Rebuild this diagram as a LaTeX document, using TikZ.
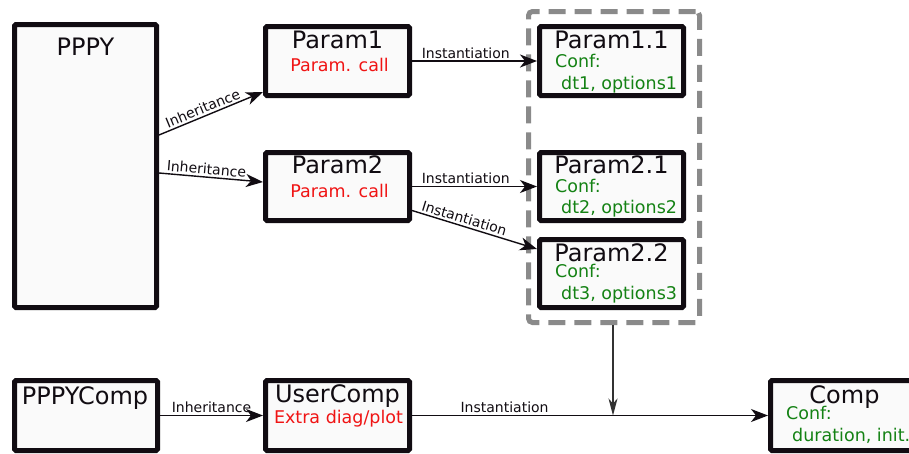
\documentclass[tikz,border=0pt]{standalone}
\usepackage{fontspec}
\setmainfont{DejaVu Sans}
\usetikzlibrary{arrows.meta,positioning}

\definecolor{borde}{RGB}{17,12,18}
\definecolor{fondo}{RGB}{250,250,250}
\definecolor{verde}{RGB}{20,130,20}
\definecolor{rojo}{RGB}{240,20,20}
\definecolor{gris}{RGB}{138,138,138}
\definecolor{oscuro}{RGB}{50,50,50}

\tikzset{
  caja/.style={draw=borde, fill=fondo, line width=5pt, rounded corners=1.5pt, inner sep=0pt},
  grupo/.style={draw=gris, line width=5pt, dash pattern=on 17pt off 9pt, rounded corners=4pt, inner sep=0pt},
  titulo/.style={anchor=base, inner sep=0pt, text=borde, font=\fontsize{24}{28}\selectfont},
  llamada/.style={anchor=base, inner sep=0pt, text=rojo, font=\fontsize{17.5}{20}\selectfont},
  conf/.style={anchor=base west, inner sep=0pt, text=verde, font=\fontsize{17.5}{20}\selectfont},
  enlace/.style={line width=1.4pt, draw=borde, -{Stealth[length=17pt,width=13pt,inset=5pt]}},
  bajada/.style={line width=1.3pt, draw=oscuro, -{Stealth[length=17pt,width=9pt,inset=5pt]}},
  etiqueta/.style={inner sep=2pt, text=borde, font=\fontsize{14}{16}\selectfont}
}

\begin{document}
\begin{tikzpicture}[x=1pt,y=-1pt]
%marco de la figura
\useasboundingbox (0,0) rectangle (909,453);

%grupo de configuraciones (detras de las cajas)
\node[grupo, minimum width=171pt, minimum height=311pt] (grp) at (614,167) {};

%cajas de la parte superior
\node[caja, minimum width=142pt, minimum height=283pt] (pppy) at (85.5,166) {};
\node[caja, minimum width=144pt, minimum height=69pt] (p1) at (337.5,61) {};
\node[caja, minimum width=144pt, minimum height=68pt] (p2) at (337.5,186.5) {};
\node[caja, minimum width=144pt, minimum height=69pt] (p11) at (611.5,61) {};
\node[caja, minimum width=144pt, minimum height=68pt] (p21) at (611.5,186.5) {};
\node[caja, minimum width=144pt, minimum height=68pt] (p22) at (611.5,273.5) {};

%cajas de la parte inferior
\node[caja, minimum width=143pt, minimum height=70pt] (pc) at (86,415.5) {};
\node[caja, minimum width=144pt, minimum height=70pt] (uc) at (337.5,415.5) {};
\node[caja, minimum width=148pt, minimum height=70pt] (cp) at (844.5,415.5) {};

%textos de las cajas
\node[titulo] (pppyt) at ([yshift=-33pt]pppy.north) {PPPY};
\node[titulo] (p1t) at ([yshift=-24pt]p1.north) {Param1};
\node[llamada] (p1c) at ([xshift=2pt,yshift=-47pt]p1.north) {Param. call};
\node[titulo] (p2t) at ([yshift=-23pt]p2.north) {Param2};
\node[llamada] (p2c) at ([xshift=2pt,yshift=-47pt]p2.north) {Param. call};

\node[titulo] (p11t) at ([yshift=-24pt]p11.north) {Param1.1};
\node[conf] (p11a) at ([xshift=18pt,yshift=-43pt]p11.north west) {Conf:};
\node[conf] (p11b) at ([xshift=24pt,yshift=-65pt]p11.north west) {dt1, options1};
\node[titulo] (p21t) at ([yshift=-23pt]p21.north) {Param2.1};
\node[conf] (p21a) at ([xshift=18pt,yshift=-42pt]p21.north west) {Conf:};
\node[conf] (p21b) at ([xshift=24pt,yshift=-63pt]p21.north west) {dt2, options2};
\node[titulo] (p22t) at ([yshift=-24pt]p22.north) {Param2.2};
\node[conf] (p22a) at ([xshift=18pt,yshift=-40pt]p22.north west) {Conf:};
\node[conf] (p22b) at ([xshift=24pt,yshift=-62pt]p22.north west) {dt3, options3};

\node[titulo] (pct) at ([xshift=-1pt,yshift=-26pt]pc.north) {PPPYComp};
\node[titulo] (uct) at ([yshift=-24pt]uc.north) {UserComp};
\node[llamada] (ucc) at ([xshift=1pt,yshift=-45pt]uc.north) {Extra diag/plot};
\node[titulo] (cpt) at ([yshift=-25pt]cp.north) {Comp};
\node[conf] (cpa) at ([xshift=18pt,yshift=-41pt]cp.north west) {Conf:};
\node[conf] (cpb) at ([xshift=24pt,yshift=-63pt]cp.north west) {duration, init.};

%herencias e instanciaciones
\draw[enlace] ([yshift=31pt]pppy.east) -- node[etiqueta, above, sloped, pos=0.45] (h1) {Inheritance} ([yshift=6pt]p1.south west);
\draw[enlace] ([yshift=-7pt]pppy.east) -- node[etiqueta, above, sloped, pos=0.45] (h2) {Inheritance} ([yshift=4.5pt]p2.west);
\draw[enlace] (p1) -- node[etiqueta, above, pos=0.43] (i1) {Instantiation} (p11);
\draw[enlace] (p2) -- node[etiqueta, above, pos=0.43] (i2) {Instantiation} (p21);
\draw[enlace] ([yshift=-24pt]p2.east) -- node[etiqueta, above, sloped, pos=0.4] (i3) {Instantiation} ([yshift=24.5pt]p22.west);

%union con la linea inferior
\coordinate (mrg) at (613,415.5);
\draw[bajada] (grp.south -| mrg) -- (mrg);
\draw[enlace] (pc) -- node[etiqueta, above] (h3) {Inheritance} (uc);
\draw[enlace] (uc) -- node[etiqueta, above, pos=0.26] (i4) {Instantiation} (cp);
\end{tikzpicture}
\end{document}
